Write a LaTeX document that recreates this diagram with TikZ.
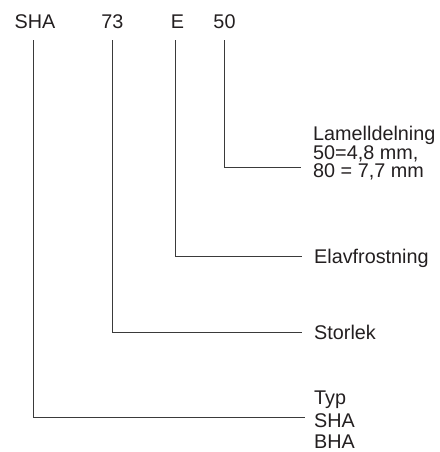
\documentclass[tikz,border=0pt]{standalone}
\usepackage{fontspec}
\setmainfont{Liberation Sans}
\definecolor{txt}{HTML}{231F20}
\definecolor{ln}{HTML}{3A3A3A}
\begin{document}
\begin{tikzpicture}[x=1pt,y=-1pt,
  lbl/.style={inner sep=0pt, font=\fontsize{19.8}{19.8}\selectfont, text=txt},
  hd/.style={lbl, anchor=base},
  desc/.style={lbl, anchor=base west},
  conn/.style={draw=ln, line width=0.9pt}]
\useasboundingbox (0,0) rectangle (439,452);
% header code
\node[hd] (hSHA) at (35,29) {SHA};
\node[hd] (h73) at (112.5,29) {73};
\node[hd] (hE) at (177.5,29) {E};
\node[hd] (h50) at (224.5,29) {50};
% descriptions
\node[desc] (lam1) at (313,140.5) {Lamelldelning};
\node[desc] (lam2) at (313,159) {50=4,8 mm,};
\node[desc] (lam3) at (313,177.5) {80 = 7,7 mm};
\node[desc] (elav) at (314,263) {Elavfrostning};
\node[desc] (stor) at (314,339) {Storlek};
\node[desc] (typ1) at (314,404) {Typ};
\node[desc] (typ2) at (314,427) {SHA};
\node[desc] (typ3) at (314,448.5) {BHA};
% connector ends
\coordinate (e50) at (301,167);
\coordinate (eE) at (302,256);
\coordinate (e73) at (302,332);
\coordinate (eSHA) at (305,417.5);
% connectors
\draw[conn] (h50.south) ++(-0.2,11) |- (e50);
\draw[conn] (hE.south) ++(-1.8,11) |- (eE);
\draw[conn] (h73.south) ++(0.2,11) |- (e73);
\draw[conn] (hSHA.south) ++(-1.5,11) |- (eSHA);
\end{tikzpicture}
\end{document}
